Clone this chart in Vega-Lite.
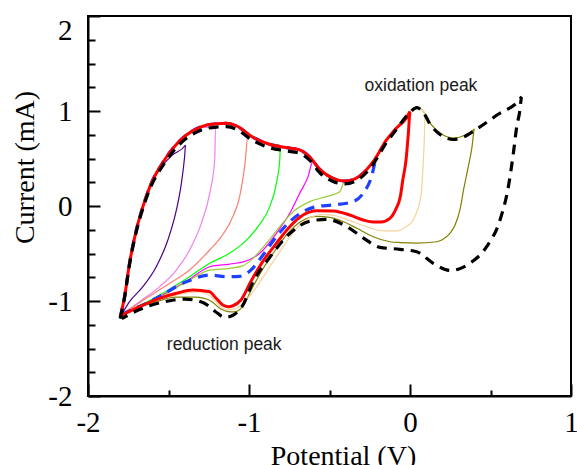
{
  "$schema": "https://vega.github.io/schema/vega-lite/v6.json",
  "width": 483,
  "height": 380,
  "autosize": {"type": "none"},
  "padding": {"left": 88, "top": 16, "right": 6, "bottom": 69},
  "background": "white",
  "config": {
    "view": {"stroke": "black", "strokeWidth": 2},
    "axis": {"grid": false}
  },
  "datasets": {
    "cv": [
      {"s":"indigo","i":1,"x":-1.800,"y":-1.170},{"s":"indigo","i":2,"x":-1.773,"y":-0.955},{"s":"indigo","i":3,"x":-1.742,"y":-0.603},{"s":"indigo","i":4,"x":-1.700,"y":-0.253},{"s":"indigo","i":5,"x":-1.659,"y":-0.007},{"s":"indigo","i":6,"x":-1.607,"y":0.239},{"s":"indigo","i":7,"x":-1.550,"y":0.400},{"s":"indigo","i":8,"x":-1.480,"y":0.530},{"s":"indigo","i":9,"x":-1.394,"y":0.642},{"s":"indigo","i":10,"x":-1.400,"y":0.519},{"s":"indigo","i":11,"x":-1.420,"y":0.239},{"s":"indigo","i":12,"x":-1.451,"y":-0.042},{"s":"indigo","i":13,"x":-1.504,"y":-0.358},{"s":"indigo","i":14,"x":-1.576,"y":-0.639},{"s":"indigo","i":15,"x":-1.659,"y":-0.849},{"s":"indigo","i":16,"x":-1.742,"y":-1.007},{"s":"indigo","i":17,"x":-1.790,"y":-1.140},

      {"s":"violet","i":1,"x":-1.800,"y":-1.170},{"s":"violet","i":2,"x":-1.773,"y":-0.955},{"s":"violet","i":3,"x":-1.742,"y":-0.603},{"s":"violet","i":4,"x":-1.700,"y":-0.253},{"s":"violet","i":5,"x":-1.659,"y":-0.007},{"s":"violet","i":6,"x":-1.607,"y":0.239},{"s":"violet","i":7,"x":-1.545,"y":0.432},{"s":"violet","i":8,"x":-1.473,"y":0.607},{"s":"violet","i":9,"x":-1.389,"y":0.747},{"s":"violet","i":10,"x":-1.307,"y":0.828},{"s":"violet","i":11,"x":-1.208,"y":0.825},{"s":"violet","i":12,"x":-1.213,"y":0.484},{"s":"violet","i":13,"x":-1.244,"y":0.134},{"s":"violet","i":14,"x":-1.296,"y":-0.183},{"s":"violet","i":15,"x":-1.369,"y":-0.463},{"s":"violet","i":16,"x":-1.451,"y":-0.674},{"s":"violet","i":17,"x":-1.555,"y":-0.849},{"s":"violet","i":18,"x":-1.680,"y":-1.007},{"s":"violet","i":19,"x":-1.790,"y":-1.140},

      {"s":"salmon","i":1,"x":-1.800,"y":-1.170},{"s":"salmon","i":2,"x":-1.773,"y":-0.955},{"s":"salmon","i":3,"x":-1.742,"y":-0.603},{"s":"salmon","i":4,"x":-1.700,"y":-0.253},{"s":"salmon","i":5,"x":-1.659,"y":-0.007},{"s":"salmon","i":6,"x":-1.607,"y":0.239},{"s":"salmon","i":7,"x":-1.545,"y":0.432},{"s":"salmon","i":8,"x":-1.473,"y":0.607},{"s":"salmon","i":9,"x":-1.389,"y":0.747},{"s":"salmon","i":10,"x":-1.307,"y":0.828},{"s":"salmon","i":11,"x":-1.203,"y":0.866},{"s":"salmon","i":12,"x":-1.140,"y":0.870},{"s":"salmon","i":13,"x":-1.081,"y":0.845},{"s":"salmon","i":14,"x":-1.005,"y":0.750},{"s":"salmon","i":15,"x":-1.027,"y":0.414},{"s":"salmon","i":16,"x":-1.058,"y":0.098},{"s":"salmon","i":17,"x":-1.110,"y":-0.147},{"s":"salmon","i":18,"x":-1.172,"y":-0.323},{"s":"salmon","i":19,"x":-1.244,"y":-0.463},{"s":"salmon","i":20,"x":-1.369,"y":-0.674},{"s":"salmon","i":21,"x":-1.493,"y":-0.814},{"s":"salmon","i":22,"x":-1.638,"y":-0.972},{"s":"salmon","i":23,"x":-1.790,"y":-1.140},

      {"s":"green","i":1,"x":-1.800,"y":-1.170},{"s":"green","i":2,"x":-1.773,"y":-0.955},{"s":"green","i":3,"x":-1.742,"y":-0.603},{"s":"green","i":4,"x":-1.700,"y":-0.253},{"s":"green","i":5,"x":-1.659,"y":-0.007},{"s":"green","i":6,"x":-1.607,"y":0.239},{"s":"green","i":7,"x":-1.545,"y":0.432},{"s":"green","i":8,"x":-1.473,"y":0.607},{"s":"green","i":9,"x":-1.389,"y":0.747},{"s":"green","i":10,"x":-1.307,"y":0.828},{"s":"green","i":11,"x":-1.203,"y":0.866},{"s":"green","i":12,"x":-1.140,"y":0.870},{"s":"green","i":13,"x":-1.081,"y":0.845},{"s":"green","i":14,"x":-0.977,"y":0.725},{"s":"green","i":15,"x":-0.873,"y":0.650},{"s":"green","i":16,"x":-0.805,"y":0.635},{"s":"green","i":17,"x":-0.809,"y":0.484},{"s":"green","i":18,"x":-0.830,"y":0.239},{"s":"green","i":19,"x":-0.871,"y":-0.007},{"s":"green","i":20,"x":-0.944,"y":-0.218},{"s":"green","i":21,"x":-1.037,"y":-0.393},{"s":"green","i":22,"x":-1.140,"y":-0.516},{"s":"green","i":23,"x":-1.244,"y":-0.603},{"s":"green","i":24,"x":-1.369,"y":-0.744},{"s":"green","i":25,"x":-1.535,"y":-0.919},{"s":"green","i":26,"x":-1.790,"y":-1.140},

      {"s":"magenta","i":1,"x":-1.800,"y":-1.170},{"s":"magenta","i":2,"x":-1.773,"y":-0.955},{"s":"magenta","i":3,"x":-1.742,"y":-0.603},{"s":"magenta","i":4,"x":-1.700,"y":-0.253},{"s":"magenta","i":5,"x":-1.659,"y":-0.007},{"s":"magenta","i":6,"x":-1.607,"y":0.239},{"s":"magenta","i":7,"x":-1.545,"y":0.432},{"s":"magenta","i":8,"x":-1.473,"y":0.607},{"s":"magenta","i":9,"x":-1.389,"y":0.747},{"s":"magenta","i":10,"x":-1.307,"y":0.828},{"s":"magenta","i":11,"x":-1.203,"y":0.866},{"s":"magenta","i":12,"x":-1.140,"y":0.870},{"s":"magenta","i":13,"x":-1.081,"y":0.845},{"s":"magenta","i":14,"x":-0.977,"y":0.725},{"s":"magenta","i":15,"x":-0.873,"y":0.650},{"s":"magenta","i":16,"x":-0.769,"y":0.620},{"s":"magenta","i":17,"x":-0.686,"y":0.598},{"s":"magenta","i":18,"x":-0.640,"y":0.550},{"s":"magenta","i":19,"x":-0.605,"y":0.460},{"s":"magenta","i":20,"x":-0.633,"y":0.309},{"s":"magenta","i":21,"x":-0.685,"y":0.134},{"s":"magenta","i":22,"x":-0.747,"y":-0.077},{"s":"magenta","i":23,"x":-0.830,"y":-0.288},{"s":"magenta","i":24,"x":-0.933,"y":-0.498},{"s":"magenta","i":25,"x":-1.029,"y":-0.585},{"s":"magenta","i":26,"x":-1.120,"y":-0.611},{"s":"magenta","i":27,"x":-1.244,"y":-0.639},{"s":"magenta","i":28,"x":-1.369,"y":-0.770},{"s":"magenta","i":29,"x":-1.535,"y":-0.935},{"s":"magenta","i":30,"x":-1.790,"y":-1.145},

      {"s":"yellowgreen","i":1,"x":-1.800,"y":-1.170},{"s":"yellowgreen","i":2,"x":-1.773,"y":-0.955},{"s":"yellowgreen","i":3,"x":-1.742,"y":-0.603},{"s":"yellowgreen","i":4,"x":-1.700,"y":-0.253},{"s":"yellowgreen","i":5,"x":-1.659,"y":-0.007},{"s":"yellowgreen","i":6,"x":-1.607,"y":0.239},{"s":"yellowgreen","i":7,"x":-1.545,"y":0.432},{"s":"yellowgreen","i":8,"x":-1.473,"y":0.607},{"s":"yellowgreen","i":9,"x":-1.389,"y":0.747},{"s":"yellowgreen","i":10,"x":-1.307,"y":0.828},{"s":"yellowgreen","i":11,"x":-1.203,"y":0.866},{"s":"yellowgreen","i":12,"x":-1.140,"y":0.870},{"s":"yellowgreen","i":13,"x":-1.081,"y":0.845},{"s":"yellowgreen","i":14,"x":-0.977,"y":0.725},{"s":"yellowgreen","i":15,"x":-0.873,"y":0.650},{"s":"yellowgreen","i":16,"x":-0.769,"y":0.615},{"s":"yellowgreen","i":17,"x":-0.686,"y":0.590},{"s":"yellowgreen","i":18,"x":-0.622,"y":0.515},{"s":"yellowgreen","i":19,"x":-0.560,"y":0.385},{"s":"yellowgreen","i":20,"x":-0.477,"y":0.291},{"s":"yellowgreen","i":21,"x":-0.405,"y":0.262},{"s":"yellowgreen","i":22,"x":-0.436,"y":0.150},{"s":"yellowgreen","i":23,"x":-0.519,"y":0.098},{"s":"yellowgreen","i":24,"x":-0.622,"y":0.046},{"s":"yellowgreen","i":25,"x":-0.726,"y":-0.060},{"s":"yellowgreen","i":26,"x":-0.809,"y":-0.218},{"s":"yellowgreen","i":27,"x":-0.892,"y":-0.393},{"s":"yellowgreen","i":28,"x":-0.975,"y":-0.551},{"s":"yellowgreen","i":29,"x":-1.040,"y":-0.630},{"s":"yellowgreen","i":30,"x":-1.120,"y":-0.656},{"s":"yellowgreen","i":31,"x":-1.244,"y":-0.675},{"s":"yellowgreen","i":32,"x":-1.380,"y":-0.790},{"s":"yellowgreen","i":33,"x":-1.535,"y":-0.945},{"s":"yellowgreen","i":34,"x":-1.790,"y":-1.150},

      {"s":"olive","i":1,"x":-1.800,"y":-1.170},{"s":"olive","i":2,"x":-1.773,"y":-0.955},{"s":"olive","i":3,"x":-1.742,"y":-0.603},{"s":"olive","i":4,"x":-1.700,"y":-0.253},{"s":"olive","i":5,"x":-1.659,"y":-0.007},{"s":"olive","i":6,"x":-1.607,"y":0.239},{"s":"olive","i":7,"x":-1.545,"y":0.432},{"s":"olive","i":8,"x":-1.473,"y":0.607},{"s":"olive","i":9,"x":-1.389,"y":0.747},{"s":"olive","i":10,"x":-1.307,"y":0.828},{"s":"olive","i":11,"x":-1.203,"y":0.866},{"s":"olive","i":12,"x":-1.140,"y":0.870},{"s":"olive","i":13,"x":-1.081,"y":0.845},{"s":"olive","i":14,"x":-0.977,"y":0.725},{"s":"olive","i":15,"x":-0.873,"y":0.650},{"s":"olive","i":16,"x":-0.769,"y":0.615},{"s":"olive","i":17,"x":-0.686,"y":0.590},{"s":"olive","i":18,"x":-0.622,"y":0.515},{"s":"olive","i":19,"x":-0.560,"y":0.385},{"s":"olive","i":20,"x":-0.477,"y":0.291},{"s":"olive","i":21,"x":-0.405,"y":0.262},{"s":"olive","i":22,"x":-0.312,"y":0.316},{"s":"olive","i":23,"x":-0.229,"y":0.466},{"s":"olive","i":24,"x":-0.146,"y":0.695},{"s":"olive","i":25,"x":-0.094,"y":0.803},{"s":"olive","i":26,"x":0.000,"y":0.996},{"s":"olive","i":27,"x":0.042,"y":1.042},{"s":"olive","i":28,"x":0.083,"y":0.996},{"s":"olive","i":29,"x":0.125,"y":0.873},{"s":"olive","i":30,"x":0.187,"y":0.768},{"s":"olive","i":31,"x":0.270,"y":0.715},{"s":"olive","i":32,"x":0.333,"y":0.739},{"s":"olive","i":33,"x":0.400,"y":0.812},{"s":"olive","i":34,"x":0.385,"y":0.620},{"s":"olive","i":35,"x":0.362,"y":0.414},{"s":"olive","i":36,"x":0.335,"y":0.190},{"s":"olive","i":37,"x":0.310,"y":-0.042},{"s":"olive","i":38,"x":0.280,"y":-0.200},{"s":"olive","i":39,"x":0.248,"y":-0.288},{"s":"olive","i":40,"x":0.200,"y":-0.355},{"s":"olive","i":41,"x":0.165,"y":-0.376},{"s":"olive","i":42,"x":0.041,"y":-0.390},{"s":"olive","i":43,"x":-0.060,"y":-0.385},{"s":"olive","i":44,"x":-0.125,"y":-0.376},{"s":"olive","i":45,"x":-0.229,"y":-0.323},{"s":"olive","i":46,"x":-0.330,"y":-0.235},{"s":"olive","i":47,"x":-0.420,"y":-0.160},{"s":"olive","i":48,"x":-0.500,"y":-0.120},{"s":"olive","i":49,"x":-0.580,"y":-0.110},{"s":"olive","i":50,"x":-0.664,"y":-0.150},{"s":"olive","i":51,"x":-0.747,"y":-0.265},{"s":"olive","i":52,"x":-0.830,"y":-0.450},{"s":"olive","i":53,"x":-0.913,"y":-0.660},{"s":"olive","i":54,"x":-0.985,"y":-0.880},{"s":"olive","i":55,"x":-1.040,"y":-1.060},{"s":"olive","i":56,"x":-1.090,"y":-1.115},{"s":"olive","i":57,"x":-1.131,"y":-1.112},{"s":"olive","i":58,"x":-1.175,"y":-1.085},{"s":"olive","i":59,"x":-1.237,"y":-1.000},{"s":"olive","i":60,"x":-1.331,"y":-0.960},{"s":"olive","i":61,"x":-1.455,"y":-0.960},{"s":"olive","i":62,"x":-1.590,"y":-1.015},{"s":"olive","i":63,"x":-1.715,"y":-1.085},{"s":"olive","i":64,"x":-1.790,"y":-1.160},

      {"s":"tan","i":1,"x":-1.800,"y":-1.170},{"s":"tan","i":2,"x":-1.773,"y":-0.955},{"s":"tan","i":3,"x":-1.742,"y":-0.603},{"s":"tan","i":4,"x":-1.700,"y":-0.253},{"s":"tan","i":5,"x":-1.659,"y":-0.007},{"s":"tan","i":6,"x":-1.607,"y":0.239},{"s":"tan","i":7,"x":-1.545,"y":0.432},{"s":"tan","i":8,"x":-1.473,"y":0.607},{"s":"tan","i":9,"x":-1.389,"y":0.747},{"s":"tan","i":10,"x":-1.307,"y":0.828},{"s":"tan","i":11,"x":-1.203,"y":0.866},{"s":"tan","i":12,"x":-1.140,"y":0.870},{"s":"tan","i":13,"x":-1.081,"y":0.845},{"s":"tan","i":14,"x":-0.977,"y":0.725},{"s":"tan","i":15,"x":-0.873,"y":0.650},{"s":"tan","i":16,"x":-0.769,"y":0.615},{"s":"tan","i":17,"x":-0.686,"y":0.590},{"s":"tan","i":18,"x":-0.622,"y":0.515},{"s":"tan","i":19,"x":-0.560,"y":0.385},{"s":"tan","i":20,"x":-0.477,"y":0.291},{"s":"tan","i":21,"x":-0.405,"y":0.262},{"s":"tan","i":22,"x":-0.312,"y":0.316},{"s":"tan","i":23,"x":-0.229,"y":0.466},{"s":"tan","i":24,"x":-0.146,"y":0.695},{"s":"tan","i":25,"x":-0.094,"y":0.803},{"s":"tan","i":26,"x":0.000,"y":0.996},{"s":"tan","i":27,"x":0.042,"y":1.042},{"s":"tan","i":28,"x":0.083,"y":0.996},{"s":"tan","i":29,"x":0.093,"y":0.970},{"s":"tan","i":30,"x":0.090,"y":0.768},{"s":"tan","i":31,"x":0.082,"y":0.450},{"s":"tan","i":32,"x":0.070,"y":0.134},{"s":"tan","i":33,"x":0.045,"y":-0.050},{"s":"tan","i":34,"x":0.020,"y":-0.147},{"s":"tan","i":35,"x":-0.030,"y":-0.225},{"s":"tan","i":36,"x":-0.080,"y":-0.262},{"s":"tan","i":37,"x":-0.167,"y":-0.262},{"s":"tan","i":38,"x":-0.250,"y":-0.228},{"s":"tan","i":39,"x":-0.364,"y":-0.160},{"s":"tan","i":40,"x":-0.457,"y":-0.105},{"s":"tan","i":41,"x":-0.541,"y":-0.088},{"s":"tan","i":42,"x":-0.624,"y":-0.125},{"s":"tan","i":43,"x":-0.707,"y":-0.240},{"s":"tan","i":44,"x":-0.790,"y":-0.435},{"s":"tan","i":45,"x":-0.873,"y":-0.645},{"s":"tan","i":46,"x":-0.956,"y":-0.860},{"s":"tan","i":47,"x":-1.040,"y":-1.030},{"s":"tan","i":48,"x":-1.090,"y":-1.085},{"s":"tan","i":49,"x":-1.131,"y":-1.090},{"s":"tan","i":50,"x":-1.175,"y":-1.065},{"s":"tan","i":51,"x":-1.237,"y":-0.950},{"s":"tan","i":52,"x":-1.320,"y":-0.905},{"s":"tan","i":53,"x":-1.435,"y":-0.930},{"s":"tan","i":54,"x":-1.580,"y":-0.995},{"s":"tan","i":55,"x":-1.705,"y":-1.075},{"s":"tan","i":56,"x":-1.790,"y":-1.155},

      {"s":"blue","i":1,"x":-1.800,"y":-1.170},{"s":"blue","i":2,"x":-1.773,"y":-0.955},{"s":"blue","i":3,"x":-1.742,"y":-0.603},{"s":"blue","i":4,"x":-1.700,"y":-0.253},{"s":"blue","i":5,"x":-1.659,"y":-0.007},{"s":"blue","i":6,"x":-1.607,"y":0.239},{"s":"blue","i":7,"x":-1.545,"y":0.432},{"s":"blue","i":8,"x":-1.473,"y":0.607},{"s":"blue","i":9,"x":-1.389,"y":0.747},{"s":"blue","i":10,"x":-1.307,"y":0.828},{"s":"blue","i":11,"x":-1.203,"y":0.866},{"s":"blue","i":12,"x":-1.140,"y":0.870},{"s":"blue","i":13,"x":-1.081,"y":0.845},{"s":"blue","i":14,"x":-0.977,"y":0.725},{"s":"blue","i":15,"x":-0.873,"y":0.650},{"s":"blue","i":16,"x":-0.769,"y":0.615},{"s":"blue","i":17,"x":-0.686,"y":0.590},{"s":"blue","i":18,"x":-0.622,"y":0.515},{"s":"blue","i":19,"x":-0.560,"y":0.385},{"s":"blue","i":20,"x":-0.477,"y":0.291},{"s":"blue","i":21,"x":-0.405,"y":0.262},{"s":"blue","i":22,"x":-0.312,"y":0.316},{"s":"blue","i":23,"x":-0.250,"y":0.420},{"s":"blue","i":24,"x":-0.208,"y":0.520},{"s":"blue","i":25,"x":-0.239,"y":0.309},{"s":"blue","i":26,"x":-0.291,"y":0.134},{"s":"blue","i":27,"x":-0.353,"y":0.046},{"s":"blue","i":28,"x":-0.477,"y":0.011},{"s":"blue","i":29,"x":-0.581,"y":-0.007},{"s":"blue","i":30,"x":-0.664,"y":-0.060},{"s":"blue","i":31,"x":-0.747,"y":-0.165},{"s":"blue","i":32,"x":-0.830,"y":-0.323},{"s":"blue","i":33,"x":-0.913,"y":-0.516},{"s":"blue","i":34,"x":-0.998,"y":-0.690},{"s":"blue","i":35,"x":-1.060,"y":-0.740},{"s":"blue","i":36,"x":-1.143,"y":-0.744},{"s":"blue","i":37,"x":-1.244,"y":-0.726},{"s":"blue","i":38,"x":-1.389,"y":-0.797},{"s":"blue","i":39,"x":-1.597,"y":-0.990},{"s":"blue","i":40,"x":-1.790,"y":-1.140},

      {"s":"red","i":1,"x":-1.800,"y":-1.170},{"s":"red","i":2,"x":-1.773,"y":-0.955},{"s":"red","i":3,"x":-1.742,"y":-0.603},{"s":"red","i":4,"x":-1.700,"y":-0.253},{"s":"red","i":5,"x":-1.659,"y":-0.007},{"s":"red","i":6,"x":-1.607,"y":0.239},{"s":"red","i":7,"x":-1.545,"y":0.432},{"s":"red","i":8,"x":-1.473,"y":0.607},{"s":"red","i":9,"x":-1.389,"y":0.747},{"s":"red","i":10,"x":-1.307,"y":0.828},{"s":"red","i":11,"x":-1.203,"y":0.866},{"s":"red","i":12,"x":-1.140,"y":0.870},{"s":"red","i":13,"x":-1.081,"y":0.845},{"s":"red","i":14,"x":-0.977,"y":0.725},{"s":"red","i":15,"x":-0.873,"y":0.650},{"s":"red","i":16,"x":-0.769,"y":0.615},{"s":"red","i":17,"x":-0.686,"y":0.590},{"s":"red","i":18,"x":-0.622,"y":0.515},{"s":"red","i":19,"x":-0.560,"y":0.385},{"s":"red","i":20,"x":-0.477,"y":0.291},{"s":"red","i":21,"x":-0.405,"y":0.262},{"s":"red","i":22,"x":-0.312,"y":0.316},{"s":"red","i":23,"x":-0.229,"y":0.466},{"s":"red","i":24,"x":-0.146,"y":0.695},{"s":"red","i":25,"x":-0.094,"y":0.803},{"s":"red","i":26,"x":0.000,"y":0.996},{"s":"red","i":27,"x":-0.010,"y":0.770},{"s":"red","i":28,"x":-0.025,"y":0.480},{"s":"red","i":29,"x":-0.045,"y":0.270},{"s":"red","i":30,"x":-0.060,"y":0.100},{"s":"red","i":31,"x":-0.090,"y":-0.040},{"s":"red","i":32,"x":-0.125,"y":-0.130},{"s":"red","i":33,"x":-0.180,"y":-0.168},{"s":"red","i":34,"x":-0.229,"y":-0.168},{"s":"red","i":35,"x":-0.291,"y":-0.147},{"s":"red","i":36,"x":-0.374,"y":-0.095},{"s":"red","i":37,"x":-0.477,"y":-0.053},{"s":"red","i":38,"x":-0.581,"y":-0.049},{"s":"red","i":39,"x":-0.664,"y":-0.095},{"s":"red","i":40,"x":-0.747,"y":-0.218},{"s":"red","i":41,"x":-0.830,"y":-0.393},{"s":"red","i":42,"x":-0.913,"y":-0.580},{"s":"red","i":43,"x":-0.990,"y":-0.800},{"s":"red","i":44,"x":-1.050,"y":-0.990},{"s":"red","i":45,"x":-1.100,"y":-1.050},{"s":"red","i":46,"x":-1.131,"y":-1.060},{"s":"red","i":47,"x":-1.165,"y":-1.040},{"s":"red","i":48,"x":-1.210,"y":-0.960},{"s":"red","i":49,"x":-1.244,"y":-0.902},{"s":"red","i":50,"x":-1.348,"y":-0.884},{"s":"red","i":51,"x":-1.451,"y":-0.919},{"s":"red","i":52,"x":-1.555,"y":-0.972},{"s":"red","i":53,"x":-1.680,"y":-1.060},{"s":"red","i":54,"x":-1.790,"y":-1.150},

      {"s":"black","i":1,"x":-1.800,"y":-1.185},{"s":"black","i":2,"x":-1.773,"y":-0.965},{"s":"black","i":3,"x":-1.742,"y":-0.615},{"s":"black","i":4,"x":-1.700,"y":-0.270},{"s":"black","i":5,"x":-1.659,"y":-0.025},{"s":"black","i":6,"x":-1.607,"y":0.215},{"s":"black","i":7,"x":-1.545,"y":0.400},{"s":"black","i":8,"x":-1.473,"y":0.572},{"s":"black","i":9,"x":-1.389,"y":0.712},{"s":"black","i":10,"x":-1.307,"y":0.793},{"s":"black","i":11,"x":-1.203,"y":0.831},{"s":"black","i":12,"x":-1.140,"y":0.835},{"s":"black","i":13,"x":-1.081,"y":0.810},{"s":"black","i":14,"x":-0.977,"y":0.690},{"s":"black","i":15,"x":-0.873,"y":0.615},{"s":"black","i":16,"x":-0.769,"y":0.580},{"s":"black","i":17,"x":-0.686,"y":0.555},{"s":"black","i":18,"x":-0.622,"y":0.480},{"s":"black","i":19,"x":-0.560,"y":0.350},{"s":"black","i":20,"x":-0.477,"y":0.258},{"s":"black","i":21,"x":-0.405,"y":0.232},{"s":"black","i":22,"x":-0.312,"y":0.290},{"s":"black","i":23,"x":-0.229,"y":0.440},{"s":"black","i":24,"x":-0.146,"y":0.670},{"s":"black","i":25,"x":-0.094,"y":0.785},{"s":"black","i":26,"x":0.000,"y":0.985},{"s":"black","i":27,"x":0.042,"y":1.035},{"s":"black","i":28,"x":0.083,"y":0.985},{"s":"black","i":29,"x":0.125,"y":0.860},{"s":"black","i":30,"x":0.187,"y":0.752},{"s":"black","i":31,"x":0.270,"y":0.700},{"s":"black","i":32,"x":0.333,"y":0.727},{"s":"black","i":33,"x":0.414,"y":0.810},{"s":"black","i":34,"x":0.538,"y":0.955},{"s":"black","i":35,"x":0.694,"y":1.151},{"s":"black","i":36,"x":0.680,"y":0.980},{"s":"black","i":37,"x":0.663,"y":0.835},{"s":"black","i":38,"x":0.642,"y":0.555},{"s":"black","i":39,"x":0.611,"y":0.204},{"s":"black","i":40,"x":0.559,"y":-0.147},{"s":"black","i":41,"x":0.476,"y":-0.428},{"s":"black","i":42,"x":0.372,"y":-0.603},{"s":"black","i":43,"x":0.300,"y":-0.665},{"s":"black","i":44,"x":0.248,"y":-0.678},{"s":"black","i":45,"x":0.144,"y":-0.603},{"s":"black","i":46,"x":0.041,"y":-0.481},{"s":"black","i":47,"x":-0.063,"y":-0.456},{"s":"black","i":48,"x":-0.187,"y":-0.435},{"s":"black","i":49,"x":-0.291,"y":-0.335},{"s":"black","i":50,"x":-0.394,"y":-0.215},{"s":"black","i":51,"x":-0.519,"y":-0.140},{"s":"black","i":52,"x":-0.622,"y":-0.160},{"s":"black","i":53,"x":-0.747,"y":-0.290},{"s":"black","i":54,"x":-0.871,"y":-0.540},{"s":"black","i":55,"x":-0.975,"y":-0.800},{"s":"black","i":56,"x":-1.040,"y":-1.050},{"s":"black","i":57,"x":-1.090,"y":-1.140},{"s":"black","i":58,"x":-1.150,"y":-1.172},{"s":"black","i":59,"x":-1.210,"y":-1.110},{"s":"black","i":60,"x":-1.280,"y":-1.020},{"s":"black","i":61,"x":-1.400,"y":-0.980},{"s":"black","i":62,"x":-1.530,"y":-1.010},{"s":"black","i":63,"x":-1.680,"y":-1.090},{"s":"black","i":64,"x":-1.790,"y":-1.185}
    ],
    "notes": [
      {"x": 0.068, "y": 1.211, "label": "oxidation peak"},
      {"x": -1.154, "y": -1.516, "label": "reduction peak"}
    ]
  },
  "resolve": {"axis": {"x": "independent", "y": "independent"}},
  "layer": [
    {
      "encoding": {
        "x": {
          "field": "x", "type": "quantitative",
          "scale": {"domain": [-2, 1], "nice": false, "zero": false},
          "axis": {
            "orient": "bottom",
            "title": "Potential (V)",
            "values": [-2, -1, 0, 1],
            "labelExpr": "'' + datum.value",
            "ticks": false, "tickSize": 0,
            "domainColor": "black", "domainWidth": 2,
            "labelFont": "Liberation Serif", "labelFontSize": 29, "labelColor": "black",
            "labelPadding": 12, "labelFlush": false, "labelOverlap": false,
            "titleFont": "Liberation Serif", "titleFontSize": 28, "titleFontWeight": "normal", "titleColor": "black",
            "titleX": 255, "titleY": 68, "titleBaseline": "alphabetic", "titleAlign": "center"
          }
        },
        "y": {
          "field": "y", "type": "quantitative",
          "scale": {"domain": [-2, 2], "nice": false, "zero": false},
          "axis": {
            "orient": "left",
            "title": "Current (mA)",
            "values": [-2, -1, 0, 1, 2],
            "labelExpr": "'' + datum.value",
            "ticks": false, "tickSize": 0,
            "domainColor": "black", "domainWidth": 2,
            "labelFont": "Liberation Serif", "labelFontSize": 29, "labelColor": "black",
            "labelPadding": 16, "labelFlush": false, "labelOverlap": false,
            "labelBaseline": {"condition": {"test": "datum.value == 2", "value": "top"}, "value": "middle"},
            "titleFont": "Liberation Serif", "titleFontSize": 28, "titleFontWeight": "normal", "titleColor": "black",
            "titleX": -63, "titleY": 151, "titleBaseline": "middle", "titleAlign": "center", "titleAngle": -90
          }
        }
      },
      "layer": [
        {
          "data": {"name": "cv"},
          "transform": [{"filter": "datum.s != 'red' && datum.s != 'blue' && datum.s != 'black'"}],
          "mark": {"type": "line", "strokeWidth": 1.2, "interpolate": "monotone"},
          "encoding": {
            "detail": {"field": "s"},
            "order": {"field": "i", "type": "quantitative"},
            "color": {
              "field": "s", "type": "nominal", "legend": null,
              "scale": {
                "domain": ["indigo", "violet", "salmon", "green", "magenta", "yellowgreen", "olive", "tan"],
                "range": ["#4B0082", "#EE82EE", "#FA8072", "#00FF00", "#FF00FF", "#9ACD32", "#808000", "#F5D29B"]
              }
            }
          }
        },
        {
          "data": {"name": "cv"},
          "transform": [{"filter": "datum.s == 'blue'"}],
          "mark": {"type": "line", "strokeWidth": 3.2, "color": "#1E40FF", "strokeDash": [10, 7], "interpolate": "monotone"},
          "encoding": {"order": {"field": "i", "type": "quantitative"}}
        },
        {
          "data": {"name": "cv"},
          "transform": [{"filter": "datum.s == 'red'"}],
          "mark": {"type": "line", "strokeWidth": 3, "color": "#FF0000", "interpolate": "monotone"},
          "encoding": {"order": {"field": "i", "type": "quantitative"}}
        },
        {
          "data": {"name": "cv"},
          "transform": [{"filter": "datum.s == 'black'"}],
          "mark": {"type": "line", "strokeWidth": 3.2, "color": "black", "strokeDash": [10, 7], "interpolate": "monotone"},
          "encoding": {"order": {"field": "i", "type": "quantitative"}}
        },
        {
          "data": {"name": "notes"},
          "mark": {"type": "text", "font": "Liberation Sans", "fontSize": 17.5, "color": "#1a1a1a", "baseline": "alphabetic", "align": "center"},
          "encoding": {"text": {"field": "label"}}
        }
      ]
    },
    {
      "data": {"name": "notes"},
      "mark": {"type": "point", "opacity": 0},
      "encoding": {
        "x": {
          "field": "x", "type": "quantitative",
          "scale": {"domain": [-2, 1], "nice": false, "zero": false},
          "axis": {
            "orient": "top", "offset": -380, "title": null, "labels": false, "domain": false,
            "values": [-2, -1.5, -1, -0.5, 0, 0.5, 1],
            "tickSize": {"condition": {"test": "datum.value % 1 == 0", "value": 12}, "value": 6},
            "tickColor": "black", "tickWidth": 2
          }
        },
        "y": {
          "field": "y", "type": "quantitative",
          "scale": {"domain": [-2, 2], "nice": false, "zero": false},
          "axis": {
            "orient": "right", "offset": -483, "title": null, "labels": false, "domain": false,
            "values": [-2, -1.75, -1.5, -1.25, -1, -0.75, -0.5, -0.25, 0, 0.25, 0.5, 0.75, 1, 1.25, 1.5, 1.75, 2],
            "tickSize": {"condition": {"test": "datum.value % 1 == 0", "value": 12}, "value": 7},
            "tickColor": "black", "tickWidth": 2
          }
        }
      }
    }
  ]
}
